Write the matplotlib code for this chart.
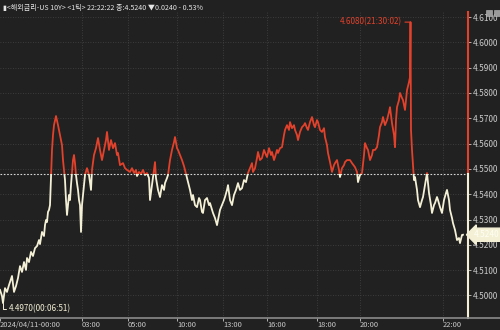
import matplotlib
matplotlib.use("Agg")
import matplotlib.pyplot as plt
from matplotlib.patches import Rectangle
from matplotlib.lines import Line2D
import matplotlib.transforms as mtransforms

# tick number (sample position) and price of US 10Y yield, 2024/04/11
tick_no = [0, 2, 3, 5, 7, 9, 12, 14, 16, 18, 20, 22, 24, 26, 27, 29, 31, 33, 35, 37,
           39, 40, 42, 44, 45, 46, 47, 48, 49, 50, 51, 52, 53, 54, 56, 58, 60, 62, 63, 64,
           65, 66, 67, 68, 69, 70, 71, 72, 73, 74, 75, 76, 77, 78, 79, 80, 81, 82, 83, 84,
           85, 87, 89, 91, 92, 94, 96, 98, 100, 102, 104, 106, 107, 109, 111, 113, 115, 117, 118, 120,
           123, 125, 127, 130, 132, 134, 136, 137, 139, 141, 143, 145, 147, 149, 150, 152, 154, 155, 156, 158,
           160, 162, 164, 165, 167, 168, 170, 172, 174, 175, 177, 178, 180, 182, 184, 185, 187, 189, 190, 192,
           193, 195, 197, 199, 200, 202, 203, 205, 207, 209, 210, 212, 213, 215, 217, 218, 220, 222, 224, 225,
           227, 228, 230, 232, 234, 236, 238, 240, 242, 244, 246, 248, 250, 252, 253, 255, 257, 258, 260, 262,
           264, 266, 267, 269, 271, 272, 274, 275, 277, 278, 280, 282, 284, 285, 287, 289, 290, 292, 294, 295,
           297, 298, 300, 302, 304, 305, 307, 308, 310, 312, 314, 315, 317, 318, 320, 322, 324, 325, 327, 328,
           330, 332, 334, 335, 337, 339, 340, 342, 344, 345, 347, 350, 352, 355, 357, 358, 360, 362, 364, 365,
           367, 368, 370, 372, 373, 375, 377, 379, 380, 382, 383, 385, 387, 389, 390, 392, 394, 395, 396, 397,
           399, 400, 402, 403, 405, 407, 409, 410, 410.5, 411, 412, 413, 414, 415, 417, 418, 420, 422, 423, 425,
           427, 429, 431, 432, 434, 435, 437, 438, 440, 442, 444, 446, 447, 449, 450, 452, 453, 455, 457, 459,
           460, 462, 463]

price = [4.5022, 4.4998, 4.4970, 4.5029, 4.5014, 4.5041, 4.5077, 4.5014, 4.5037, 4.5069,
         4.5116, 4.5093, 4.5132, 4.5101, 4.5148, 4.5132, 4.5172, 4.5156, 4.5187, 4.5195,
         4.5219, 4.5203, 4.5251, 4.5235, 4.5278, 4.5298, 4.5290, 4.5330, 4.5338, 4.5357,
         4.5472, 4.5575, 4.5634, 4.5673, 4.5709, 4.5673, 4.5634, 4.5594, 4.5535, 4.5496,
         4.5456, 4.5377, 4.5318, 4.5357, 4.5397, 4.5377, 4.5436, 4.5488, 4.5535, 4.5555,
         4.5523, 4.5476, 4.5444, 4.5417, 4.5377, 4.5357, 4.5251, 4.5357, 4.5397, 4.5436,
         4.5476, 4.5503, 4.5476, 4.5417, 4.5496, 4.5555, 4.5582, 4.5622, 4.5575, 4.5535,
         4.5575, 4.5614, 4.5646, 4.5575, 4.5614, 4.5582, 4.5602, 4.5555, 4.5563, 4.5515,
         4.5523, 4.5503, 4.5496, 4.5488, 4.5503, 4.5484, 4.5496, 4.5472, 4.5488, 4.5480,
         4.5496, 4.5476, 4.5484, 4.5464, 4.5377, 4.5436, 4.5496, 4.5527, 4.5464, 4.5417,
         4.5389, 4.5436, 4.5417, 4.5444, 4.5464, 4.5476, 4.5535, 4.5575, 4.5606, 4.5626,
         4.5582, 4.5575, 4.5555, 4.5535, 4.5511, 4.5496, 4.5464, 4.5432, 4.5417, 4.5377,
         4.5397, 4.5357, 4.5349, 4.5385, 4.5377, 4.5330, 4.5326, 4.5377, 4.5385, 4.5357,
         4.5365, 4.5338, 4.5326, 4.5306, 4.5278, 4.5298, 4.5338, 4.5357, 4.5377, 4.5389,
         4.5417, 4.5436, 4.5377, 4.5357, 4.5397, 4.5417, 4.5444, 4.5417, 4.5424, 4.5456,
         4.5448, 4.5484, 4.5503, 4.5523, 4.5488, 4.5503, 4.5543, 4.5567, 4.5535, 4.5543,
         4.5575, 4.5555, 4.5547, 4.5582, 4.5555, 4.5567, 4.5535, 4.5547, 4.5575, 4.5563,
         4.5582, 4.5586, 4.5634, 4.5654, 4.5673, 4.5654, 4.5685, 4.5661, 4.5673, 4.5654,
         4.5634, 4.5614, 4.5646, 4.5665, 4.5673, 4.5681, 4.5661, 4.5654, 4.5685, 4.5705,
         4.5673, 4.5665, 4.5693, 4.5685, 4.5654, 4.5646, 4.5661, 4.5626, 4.5594, 4.5563,
         4.5527, 4.5488, 4.5515, 4.5523, 4.5535, 4.5496, 4.5468, 4.5503, 4.5515, 4.5527,
         4.5535, 4.5535, 4.5523, 4.5507, 4.5488, 4.5448, 4.5476, 4.5484, 4.5555, 4.5602,
         4.5582, 4.5575, 4.5535, 4.5555, 4.5575, 4.5575, 4.5586, 4.5634, 4.5665, 4.5685,
         4.5705, 4.5673, 4.5693, 4.5725, 4.5744, 4.5681, 4.5634, 4.5586, 4.5693, 4.5744,
         4.5772, 4.5800, 4.5780, 4.5772, 4.5733, 4.5811, 4.5843, 4.5863, 4.6080, 4.5654,
         4.5575, 4.5515, 4.5456, 4.5468, 4.5417, 4.5377, 4.5349, 4.5377, 4.5389, 4.5436,
         4.5484, 4.5405, 4.5357, 4.5326, 4.5357, 4.5365, 4.5389, 4.5377, 4.5349, 4.5326,
         4.5377, 4.5405, 4.5417, 4.5377, 4.5338, 4.5306, 4.5286, 4.5259, 4.5219, 4.5227,
         4.5207, 4.5239, 4.5240]

prev_close = 4.5480
last_price = 4.5240

x_tick_pos = [0, 82, 128, 177, 223, 267, 317, 360, 443]
x_tick_labels = ["2024/04/11-00:00", "03:00", "05:00", "10:00", "13:00",
                 "16:00", "18:00", "20:00", "22:00"]
y_ticks = [4.50, 4.51, 4.52, 4.53, 4.54, 4.55, 4.56, 4.57, 4.58, 4.59, 4.60, 4.61]

title = "▮<해외금리-US 10Y> <1틱> 22:22:22 종:4.5240 ▼0.0240 - 0.53%"

BG = "#212121"
RED = "#e2412b"
CREAM = "#f4f0d6"
GRID = "#454545"
TXT = "#c9c9c9"
FONT = ["Liberation Sans Narrow", "Noto Sans CJK KR", "DejaVu Sans"]

plt.rcParams["font.family"] = FONT

fig = plt.figure(figsize=(5, 3.3), dpi=100, facecolor=BG)
ax = fig.add_axes([0, 12 / 330, 468 / 500, 306 / 330])
ax.set_facecolor(BG)
ax.set_xlim(0, 468)
ax.set_ylim(4.4911, 4.6120)

# grid
for xt in x_tick_pos[1:]:
    ax.axvline(xt, color=GRID, lw=0.6, ls=(0, (1, 2)), zorder=0)
for yt in y_ticks:
    ax.axhline(yt, color=GRID, lw=0.6, ls=(0, (1, 2)), zorder=0)

# prev close line
ax.axhline(prev_close, color="#d8d8d8", lw=0.8, ls=(0, (1.5, 1.5)), zorder=1)

# price line: red above prev close, cream below
red_line, = ax.plot(tick_no, price, color=RED, lw=1.3, zorder=3)
red_line.set_clip_path(Rectangle((-10, prev_close), 600, 1, transform=ax.transData))
wht_line, = ax.plot(tick_no, price, color=CREAM, lw=1.3, zorder=3)
wht_line.set_clip_path(Rectangle((-10, prev_close - 1), 600, 1, transform=ax.transData))

# right axis line colored by side
xr = ax.get_xlim()[1]
ax.plot([xr, xr], [prev_close, ax.get_ylim()[1]], color=RED, lw=1.5, clip_on=False, zorder=4)
ax.plot([xr, xr], [ax.get_ylim()[0], prev_close], color=CREAM, lw=1.5, clip_on=False, zorder=4)

# axes, ticks
for s in ax.spines.values():
    s.set_visible(False)
ax.yaxis.tick_right()
ax.set_yticks(y_ticks)
ax.set_yticklabels([f"{v:.4f}" for v in y_ticks])
ax.tick_params(axis="y", colors=TXT, labelsize=6, length=2, pad=1.5, width=0.6)
ax.set_xticks(x_tick_pos)
ax.set_xticklabels(x_tick_labels)
ax.tick_params(axis="x", colors=TXT, labelsize=5.4, length=2, pad=0.3, width=0.6)
for lab in ax.get_xticklabels():
    lab.set_ha("left")

fig.add_artist(Line2D([0, 1], [12 / 330, 12 / 330], color="#8a8a8a", lw=1.2))

# annotations for high/low
hi = price.index(max(price))
ax.annotate(f"{price[hi]:.4f}(21:30:02)", xy=(tick_no[hi], price[hi]), xytext=(-6, 0),
            textcoords="offset points", ha="right", va="center", color=RED, fontsize=5.8,
            arrowprops=dict(arrowstyle="-", color=RED, lw=0.8, shrinkA=0, shrinkB=0))
lo = price.index(min(price))
ax.annotate(f"{price[lo]:.4f}(00:06:51)", xy=(tick_no[lo], price[lo]), xytext=(4, -4),
            textcoords="offset points", ha="left", va="center", color=CREAM, fontsize=5.8,
            arrowprops=dict(arrowstyle="-", color=CREAM, lw=0.7, shrinkA=0, shrinkB=0,
                            connectionstyle="angle,angleA=0,angleB=90,rad=0"))

# last price tag on the right axis
trans = mtransforms.blended_transform_factory(ax.transAxes, ax.transData)
ax.text(1.012, last_price, f"{last_price:.4f}", transform=trans, ha="left", va="center",
        fontsize=6, color="#fffef4", clip_on=False, zorder=5,
        bbox=dict(boxstyle="larrow,pad=0.25", fc=CREAM, ec=CREAM))

# header text
fig.text(0.006, 0.975, title, color="#e6e6e6", fontsize=5.1, ha="left", va="center")

# small window icons at top right
for xi in (0.972, 0.988):
    fig.add_artist(Rectangle((xi, 0.952), 0.012, 0.018, transform=fig.transFigure,
                             fc="#9a9a9a", ec="#bbbbbb", lw=0.4))

fig.savefig("out.png", dpi=100, facecolor=BG)
